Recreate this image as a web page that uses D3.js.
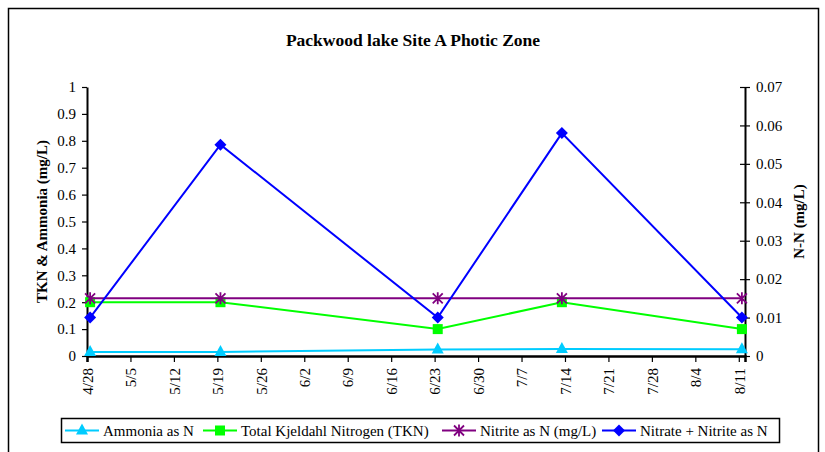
<!DOCTYPE html>
<html>
<head>
<meta charset="utf-8">
<script src="https://cdn.jsdelivr.net/npm/d3@7"></script>
<style>
  body { margin: 0; background: #fff; }
</style>
</head>
<body>
<svg class="chart" width="825" height="452"></svg>
<script>
var sampleDates = ["4/28", "5/19", "6/23", "7/13", "8/11"];
var ammonia     = [0.015, 0.015, 0.024, 0.026, 0.025];   // left axis
var tkn         = [0.2, 0.2, 0.1, 0.2, 0.1];             // left axis
var nitrite     = [0.015, 0.015, 0.015, 0.015, 0.015];   // right axis
var nitrate     = [0.01, 0.055, 0.01, 0.058, 0.01];      // right axis
var xTickLabels = ["4/28", "5/5", "5/12", "5/19", "5/26", "6/2", "6/9", "6/16",
                   "6/23", "6/30", "7/7", "7/14", "7/21", "7/28", "8/4", "8/11"];
var leftTicks  = [0, 0.1, 0.2, 0.3, 0.4, 0.5, 0.6, 0.7, 0.8, 0.9, 1];
var rightTicks = [0, 0.01, 0.02, 0.03, 0.04, 0.05, 0.06, 0.07];

(function() {
  var FONT = "'Liberation Serif', 'Times New Roman', Times, 'DejaVu Serif', serif";
  var svg = d3.select(".chart");
  var parse = function(s) { return d3.utcParse("%m/%d/%Y")(s + "/2004"); };

  var left = 87, right = 745, top = 87, bottom = 356;

  // outer frame
  svg.append("rect")
    .attr("x", 8.5).attr("y", 8.5)
    .attr("width", 810).attr("height", 460)
    .attr("fill", "none").attr("stroke", "#000").attr("stroke-width", 1.5);

  svg.append("text")
    .attr("x", 413).attr("y", 46)
    .attr("text-anchor", "middle")
    .style("font-family", FONT)
    .style("font-size", "17.5px").style("font-weight", "bold")
    .text("Packwood lake Site A Photic Zone");

  var xScale = d3.scaleUtc()
    .domain([parse("4/28"), parse("8/12")])
    .range([left, right]);
  var yLeft = d3.scaleLinear().domain([0, 1]).range([bottom, top]);
  var yRight = d3.scaleLinear().domain([0, 0.07]).range([bottom, top]);

  var xAt = function(i) { return xScale(d3.utcHour.offset(parse(sampleDates[i]), 12)); };

  // Add the x Axis
  var xAxis = d3.axisBottom(xScale)
    .tickValues(xTickLabels.map(parse))
    .tickSize(6)
    .tickFormat(function(d, i) { return xTickLabels[i]; });
  var gx = svg.append("g")
    .attr("transform", "translate(0," + bottom + ")")
    .call(xAxis);
  gx.select(".domain").attr("stroke-width", 2.5);
  gx.selectAll(".tick line").attr("stroke-width", 1.2);
  gx.selectAll(".tick text")
    .style("font-family", FONT)
    .style("font-size", "15px")
    .attr("transform", "rotate(-90)")
    .attr("text-anchor", "end")
    .attr("x", -12).attr("y", 0).attr("dy", "0.35em");

  // Add the left y Axis
  var gl = svg.append("g")
    .attr("transform", "translate(" + left + ",0)")
    .call(d3.axisLeft(yLeft).tickValues(leftTicks).tickSize(5).tickSizeOuter(0)
      .tickFormat(d3.format("")));
  gl.select(".domain").attr("stroke-width", 2);
  gl.selectAll(".tick line").attr("stroke-width", 1.2);
  gl.selectAll(".tick text").style("font-family", FONT).style("font-size", "15px").attr("x", -11);

  // Add the right y Axis
  var gr = svg.append("g")
    .attr("transform", "translate(" + right + ",0)")
    .call(d3.axisRight(yRight).tickValues(rightTicks).tickSize(5).tickSizeOuter(0)
      .tickFormat(d3.format("")));
  gr.select(".domain").attr("stroke-width", 2);
  gr.selectAll(".tick line").attr("x1", -5).attr("stroke-width", 1.2);
  gr.selectAll(".tick text").style("font-family", FONT).style("font-size", "15px").attr("x", 11);

  svg.append("text")
    .attr("transform", "translate(47," + (top + bottom) / 2 + ") rotate(-90)")
    .attr("text-anchor", "middle")
    .style("font-family", FONT)
    .style("font-size", "15px").style("font-weight", "bold")
    .text("TKN & Ammonia (mg/L)");
  svg.append("text")
    .attr("transform", "translate(804," + (top + bottom) / 2 + ") rotate(-90)")
    .attr("text-anchor", "middle")
    .style("font-family", FONT)
    .style("font-size", "15px").style("font-weight", "bold")
    .text("N-N (mg/L)");

  var series = [
    {name: "Ammonia as N", values: ammonia, y: yLeft, color: "#00CCFF", marker: "triangle"},
    {name: "Total Kjeldahl Nitrogen (TKN)", values: tkn, y: yLeft, color: "#00FF00", marker: "square"},
    {name: "Nitrite as N (mg/L)", values: nitrite, y: yRight, color: "#800080", marker: "star"},
    {name: "Nitrate + Nitrite as N", values: nitrate, y: yRight, color: "#0000FF", marker: "diamond"}
  ];

  function drawMarker(g, type, color) {
    if (type === "triangle") {
      g.append("path").attr("d", "M0,-7L6,4L-6,4Z").attr("fill", color);
    } else if (type === "square") {
      g.append("rect").attr("x", -5).attr("y", -5).attr("width", 10).attr("height", 10).attr("fill", color);
    } else if (type === "diamond") {
      g.append("path").attr("d", "M0,-6L6,0L0,6L-6,0Z").attr("fill", color);
    } else {
      g.append("path").attr("d", "M-5,-5L5,5M-5,5L5,-5M0,-6L0,6")
        .attr("stroke", color).attr("stroke-width", 1.8).attr("fill", "none");
    }
  }

  series.forEach(function(s) {
    var line = d3.line()
      .x(function(d, i) { return xAt(i); })
      .y(function(d) { return s.y(d); });
    svg.append("path")
      .datum(s.values)
      .attr("d", line)
      .attr("fill", "none")
      .attr("stroke", s.color)
      .attr("stroke-width", 2);
    s.values.forEach(function(v, i) {
      var g = svg.append("g").attr("transform", "translate(" + xAt(i) + "," + s.y(v) + ")");
      drawMarker(g, s.marker, s.color);
    });
  });

  // legend
  var legend = svg.append("g");
  legend.append("rect")
    .attr("x", 61.5).attr("y", 418.5).attr("width", 718).attr("height", 24)
    .attr("fill", "#fff").attr("stroke", "#000").attr("stroke-width", 1.5);
  var legendX = [65, 203, 442, 602];
  series.forEach(function(s, i) {
    var gx0 = legendX[i];
    legend.append("line")
      .attr("x1", gx0).attr("x2", gx0 + 34)
      .attr("y1", 430.5).attr("y2", 430.5)
      .attr("stroke", s.color).attr("stroke-width", 2);
    drawMarker(legend.append("g").attr("transform", "translate(" + (gx0 + 17) + ",430.5)"), s.marker, s.color);
    legend.append("text")
      .attr("x", gx0 + 38).attr("y", 436)
      .style("font-family", FONT)
      .style("font-size", "15px")
      .text(s.name);
  });
})();
</script>
</body>
</html>
